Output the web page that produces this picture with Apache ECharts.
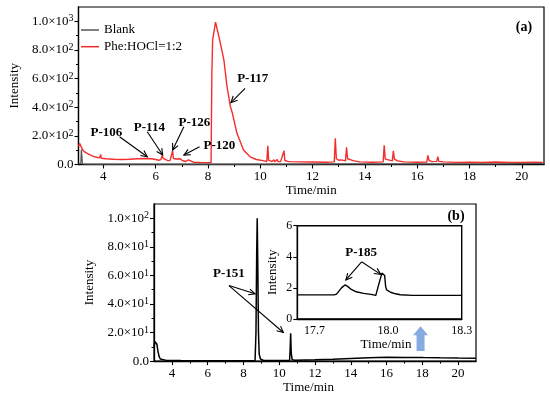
<!DOCTYPE html>
<html><head><meta charset="utf-8">
<script src="https://cdn.jsdelivr.net/npm/echarts@6/dist/echarts.min.js"></script>
<style>html,body{margin:0;padding:0;background:#fff}#c{width:550px;height:395px}</style>
</head><body><div id="c"></div>
<script>
const FONT = "'Liberation Serif','Times New Roman',serif";

// ---- Panel (a): Phe:HOCl=1:2 (red) and Blank (gray) ----
const pheT = [3.05,3.10,3.15,3.22,3.30,3.40,3.55,3.70,3.85,3.88,3.90,3.92,4.10,4.40,4.42,4.44,4.70,5.00,5.30,5.60,5.85,6.00,6.12,6.20,6.25,6.29,6.36,6.45,6.55,6.61,6.65,6.68,6.74,6.80,6.87,6.94,7.02,7.15,7.25,7.29,7.45,7.70,7.95,8.12,8.15,8.18,8.29,8.42,8.61,8.73,8.86,8.92,9.11,9.36,9.61,9.85,10.11,10.25,10.29,10.32,10.45,10.52,10.55,10.65,10.68,10.75,10.78,10.91,10.94,11.05,11.10,11.15,11.5,12.0,12.5,12.83,12.87,12.91,12.96,13.00,13.10,13.26,13.30,13.34,13.40,13.50,13.60,13.80,14.30,14.70,14.74,14.78,14.85,15.05,15.09,15.13,15.25,15.50,16.00,16.37,16.41,16.45,16.55,16.75,16.79,16.83,17.0,17.5,18.0,18.5,19.0,19.5,20.0,20.5,20.8];
const pheV = [128,146,125,100,86,76,62,52,46,44,70,44,40,37,43,37,35,37,40,42,40,35,30,34,63,42,32,28,27,36,96,42,32,38,44,40,28,21,33,20,16,14,13,13,640,870,995,893,730,543,404,369,218,101,54,35,27,20,130,30,20,34,20,35,20,30,20,96,28,22,33,20,18,17,16,18,183,40,45,30,32,25,120,40,38,30,25,18,16,18,134,38,30,25,96,38,25,18,16,17,64,30,20,22,54,22,18,15,16,15,17,15,15,16,15];
const blankT = [3.05,3.14,3.16,3.18,3.20,3.50,5.0,8.0,10.0,13.0,16.0,19.0,20.8];
const blankV = [5,8,104,60,5,3,3,3,3,4,4,5,8];

// ---- Panel (b) main trace ----
const bT = [3.00,3.06,3.11,3.16,3.22,3.28,3.35,3.45,3.70,4.5,5.5,6.5,7.00,7.06,7.12,8.0,8.65,8.70,8.74,8.77,8.80,8.84,8.88,8.95,9.1,10.0,10.58,10.61,10.64,10.67,10.72,10.9,12.0,13.0,14.0,15.0,16.0,17.0,17.9,17.98,18.05,19.0,20.0,21.0];
const bV = [10,13.5,14.8,12,7,3.5,1.5,0.8,0.5,0.4,0.3,0.3,0.3,0.9,0.3,0.3,0.4,20,75,100,70,20,5,1.5,0.6,0.4,0.4,8,19.5,6,1,0.6,0.9,1.3,1.8,2.3,2.7,2.6,2.6,3.2,2.5,2.3,2.1,2.0];

// ---- Panel (b) inset ----
const inT = [17.63,17.70,17.78,17.79,17.81,17.824,17.835,17.85,17.87,17.90,17.93,17.95,17.956,17.965,17.975,17.98,17.986,17.99,17.994,18.01,18.03,18.05,18.10,18.20,18.30];
const inV = [1.55,1.55,1.55,1.6,2.0,2.19,2.1,1.9,1.75,1.65,1.58,1.52,1.6,2.4,2.95,3.04,2.8,2.1,1.87,1.72,1.62,1.56,1.52,1.52,1.52];

// ---- Tick values & labels ----
const topXTicks = [4,6,8,10,12,14,16,18,20];
const topXMinor = [5,7,9,11,13,15,17,19];
const topXLabels = ['4','6','8','10','12','14','16','18','20'];
const topYTicks = [0,200,400,600,800,1000];
const topYMinor = [100,300,500,700,900];
const topYLabels = ['0.0','2.0×10^2','4.0×10^2','6.0×10^2','8.0×10^2','1.0×10^3'];
const botXTicks = [4,6,8,10,12,14,16,18,20];
const botXMinor = [5,7,9,11,13,15,17,19];
const botXLabels = ['4','6','8','10','12','14','16','18','20'];
const botYTicks = [0,20,40,60,80,100];
const botYMinor = [10,30,50,70,90];
const botYLabels = ['0.0','2.0×10^1','4.0×10^1','6.0×10^1','8.0×10^1','1.0×10^2'];
const inXTicks = [17.7,18.0,18.3];
const inXLabels = ['17.7','18.0','18.3'];
const inYTicks = [0,2,4,6];
const inYLabels = ['0','2','4','6'];

// ---- Annotations (data coordinates) ----
const topNotes = [
  {text:'P-106', at:[4.12,222], from:[4.62,194], to:[[5.68,54]]},
  {text:'P-114', at:[5.76,260], from:[5.68,229], to:[[6.27,66]]},
  {text:'P-126', at:[7.48,292], from:[7.08,264], to:[[6.65,101]]},
  {text:'P-120', at:[8.44,131], from:[7.68,124], to:[[7.08,66]]},
  {text:'P-117', at:[9.71,597], from:[9.42,532], to:[[8.88,432]]}
];
const botNotes = [
  {text:'P-151', at:[7.19,60.9], from:[7.19,52.9], to:[[8.65,47.1],[10.23,20]]}
];
const inNotes = [
  {text:'P-185', at:[17.89,4.24], from:[17.892,3.68], to:[[17.828,2.51],[17.97,2.87]]}
];
const blueArrowAt = [17.9, 24.4, 7];

const zip = (a,b) => a.map((v,i)=>[v,b[i]]);
// "a^b" -> rich text with superscript
const toRich = s => { const k = s.indexOf('^'); return k < 0 ? '{n|' + s + '}' : '{n|' + s.slice(0,k) + '}{s|' + s.slice(k+1) + '}'; };
const lab = (ticks, labels) => v => { const i = ticks.findIndex(t => Math.abs(t-v) < 1e-6); return i < 0 ? '' : toRich(labels[i]); };
const richFor = fs => ({n:{fontFamily:FONT, fontSize:fs, color:'#000'}, s:{fontFamily:FONT, fontSize:fs-3, color:'#000', padding:[0,0,5,0]}});

const AX = {color:'#000', width:1.3};
function mainX(grid, min, max, ticks, labels, name, gap, pad, fs) {
  return {type:'value', gridIndex:grid, min, max, position:'bottom',
    axisLine:{show:true, onZero:false, lineStyle:AX},
    axisTick:{show:true, customValues:ticks, length:4, lineStyle:{color:'#000', width:1.1}},
    axisLabel:{show:true, customValues:ticks, formatter:lab(ticks, labels), rich:richFor(fs), margin:6},
    splitLine:{show:false},
    name, nameLocation:'middle', nameGap:gap,
    nameTextStyle:{color:'#000', fontFamily:FONT, fontSize:13, padding:pad}};
}
function minorX(grid, min, max, ticks) {
  return {type:'value', gridIndex:grid, min, max, position:'bottom',
    axisLine:{show:false, onZero:false}, axisLabel:{show:false}, splitLine:{show:false},
    axisTick:{show:true, customValues:ticks, length:2.5, lineStyle:{color:'#000', width:1}}};
}
function mainY(grid, min, max, ticks, labels, name, gap, fs) {
  return {type:'value', gridIndex:grid, min, max, position:'left',
    axisLine:{show:true, onZero:false, lineStyle:AX},
    axisTick:{show:true, customValues:ticks, length:4, lineStyle:{color:'#000', width:1.1}},
    axisLabel:{show:true, customValues:ticks, formatter:lab(ticks, labels), rich:richFor(fs), margin:5},
    splitLine:{show:false},
    name, nameLocation:'middle', nameGap:gap,
    nameTextStyle:{color:'#000', fontFamily:FONT, fontSize:13}};
}
function minorY(grid, min, max, ticks) {
  return {type:'value', gridIndex:grid, min, max, position:'left',
    axisLine:{show:false, onZero:false}, axisLabel:{show:false}, splitLine:{show:false},
    axisTick:{show:true, customValues:ticks, length:2.5, lineStyle:{color:'#000', width:1}}};
}

const chart = echarts.init(document.getElementById('c'), null, {renderer:'canvas'});
const option = {
  animation:false,
  backgroundColor:'#fff',
  grid:[
    {left:68, top:7, width:476, height:157.5, show:true, borderColor:'#000', borderWidth:1.2, backgroundColor:'transparent'},
    {left:154, top:204, width:322, height:158, show:true, borderColor:'#000', borderWidth:1.2, backgroundColor:'transparent'},
    {left:297.3, top:225.7, width:164.4, height:93.3, show:true, borderColor:'#000', borderWidth:1.4, backgroundColor:'#fff', z:5}
  ],
  legend:{data:['Blank','Phe:HOCl=1:2'], orient:'vertical', left:76, top:18.5, icon:'rect', itemWidth:18, itemHeight:1.5, itemGap:3.7,
    textStyle:{color:'#000', fontFamily:FONT, fontSize:13, lineHeight:13}},
  xAxis:[
    mainX(0, 3.05, 20.85, topXTicks, topXLabels, 'Time/min', 19, [0,0,0,0], 13),
    minorX(0, 3.05, 20.85, topXMinor),
    mainX(1, 3.0, 21.0, botXTicks, botXLabels, 'Time/min', 18.5, [0,13,0,0], 13),
    minorX(1, 3.0, 21.0, botXMinor),
    Object.assign(mainX(2, 17.63, 18.3, inXTicks, inXLabels, 'Time/min', 13, [0,0,0,13], 12), {axisTick:{show:false}, z:6})
  ],
  yAxis:[
    mainY(0, 0, 1100, topYTicks, topYLabels, 'Intensity', 52, 13),
    minorY(0, 0, 1100, topYMinor),
    mainY(1, 0, 110, botYTicks, botYLabels, 'Intensity', 49, 13),
    minorY(1, 0, 110, botYMinor),
    Object.assign(mainY(2, 0, 6, inYTicks, inYLabels, 'Intensity', 18, 12), {z:6})
  ],
  series:[
    {name:'Phe:HOCl=1:2', type:'line', xAxisIndex:0, yAxisIndex:0, data:zip(pheT,pheV), showSymbol:false, symbol:'none',
      lineStyle:{color:'#f52c2c', width:1.4}, itemStyle:{color:'#f52c2c'}, z:2},
    {name:'Blank', type:'line', xAxisIndex:0, yAxisIndex:0, data:zip(blankT,blankV), showSymbol:false, symbol:'none',
      lineStyle:{color:'#555', width:1.2}, itemStyle:{color:'#555'}, z:3},
    {name:'b', type:'line', xAxisIndex:2, yAxisIndex:2, data:zip(bT,bV), showSymbol:false, symbol:'none',
      lineStyle:{color:'#000', width:1.5}, z:2},
    {name:'inset', type:'line', xAxisIndex:4, yAxisIndex:4, data:zip(inT,inV), showSymbol:false, symbol:'none',
      lineStyle:{color:'#000', width:1.4}, z:7}
  ]
};
chart.setOption(option);

const graphics = [];
const TXT = {fill:'#000', font:"bold 13px " + FONT, align:'center', verticalAlign:'middle'};
function arrowEls(p1, p2) {
  const dx = p2[0]-p1[0], dy = p2[1]-p1[1];
  const ang = Math.atan2(dy, dx), L = 7, a = 0.45;
  const h1 = [p2[0]-L*Math.cos(ang-a), p2[1]-L*Math.sin(ang-a)];
  const h2 = [p2[0]-L*Math.cos(ang+a), p2[1]-L*Math.sin(ang+a)];
  return [
    {type:'line', z:100, shape:{x1:p1[0], y1:p1[1], x2:p2[0], y2:p2[1]}, style:{stroke:'#000', lineWidth:1.1}},
    {type:'polyline', z:100, shape:{points:[h1, p2, h2]}, style:{stroke:'#000', lineWidth:1.1, fill:null}}
  ];
}
function addNotes(notes, xi, yi) {
  const f = {xAxisIndex:xi, yAxisIndex:yi};
  notes.forEach(n => {
    const p = chart.convertToPixel(f, n.at);
    graphics.push({type:'text', z:100, style:Object.assign({text:n.text, x:p[0], y:p[1]}, TXT)});
    const s = chart.convertToPixel(f, n.from);
    n.to.forEach(t => arrowEls(s, chart.convertToPixel(f, t)).forEach(e => graphics.push(e)));
  });
}
addNotes(topNotes, 0, 0);
addNotes(botNotes, 2, 2);
addNotes(inNotes, 4, 4);

// blue arrow pointing at 18 min
const bt = chart.convertToPixel({xAxisIndex:2, yAxisIndex:2}, [blueArrowAt[0], blueArrowAt[1]]);
const bb = chart.convertToPixel({xAxisIndex:2, yAxisIndex:2}, [blueArrowAt[0], blueArrowAt[2]]);
graphics.push({type:'polygon', z:100, shape:{points:[
  [bt[0], bt[1]], [bt[0]+7.5, bt[1]+9], [bt[0]+4, bt[1]+9], [bt[0]+4, bb[1]], [bt[0]-4, bb[1]], [bt[0]-4, bt[1]+9], [bt[0]-7.5, bt[1]+9]
]}, style:{fill:'#86abe0'}});

// panel letters
graphics.push({type:'text', z:100, style:Object.assign({text:'(a)', x:524, y:27}, TXT, {font:"bold 14px " + FONT})});
graphics.push({type:'text', z:100, style:Object.assign({text:'(b)', x:456, y:216}, TXT, {font:"bold 14px " + FONT})});

chart.setOption({graphic:graphics});
</script>
</body></html>
